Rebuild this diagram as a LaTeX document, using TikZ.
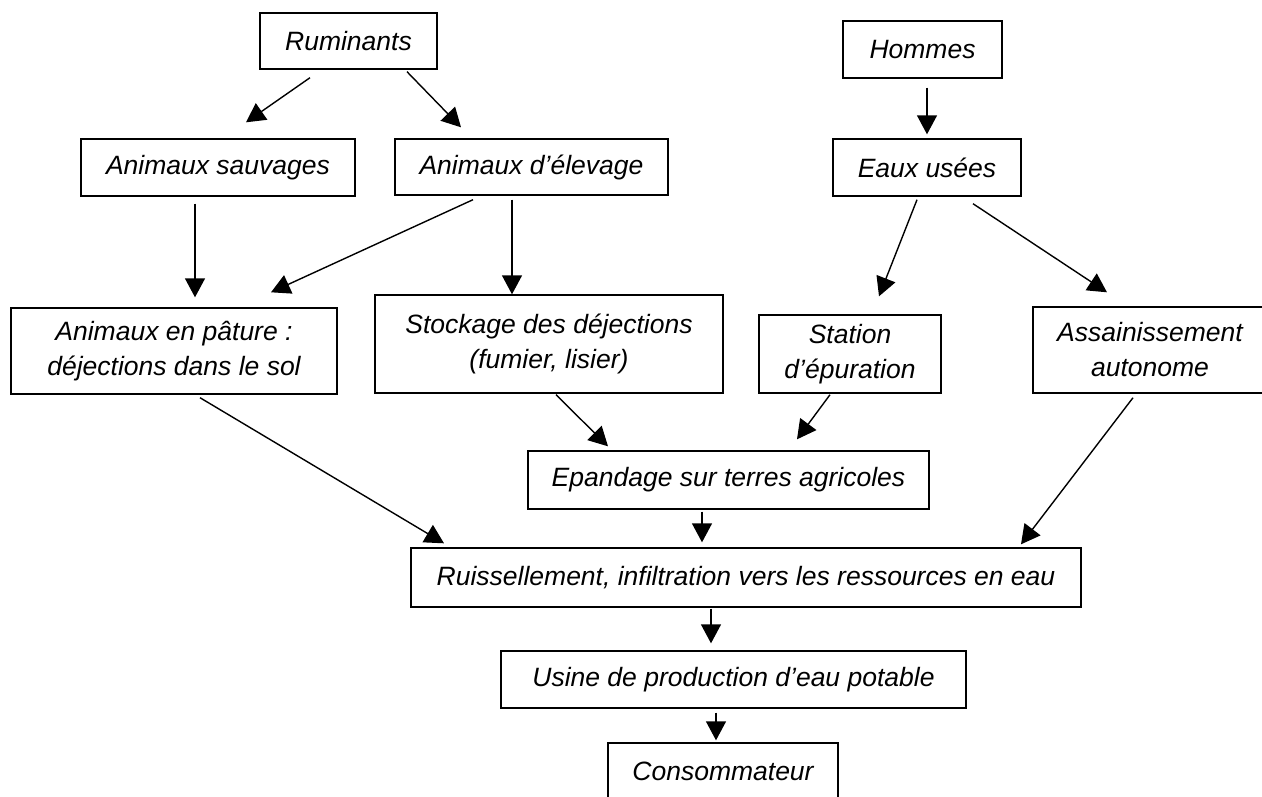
\documentclass[tikz,border=0pt]{standalone}
\usepackage{fontspec}
\setmainfont{Liberation Sans}
\usetikzlibrary{arrows.meta,calc}
\tikzset{
  box/.style={draw, line width=1.4pt, inner sep=0pt, align=center,
    font=\fontsize{26.5}{35}\selectfont\itshape},
  arr/.style={line width=1.4pt, -{Triangle[length=19pt,width=20pt]}}
}
\begin{document}
\begin{tikzpicture}[x=1pt,y=-1pt]
\useasboundingbox (0,0) rectangle (1262,796);
\node[box, minimum width=177pt, minimum height=56pt] (rum) at (348.5,41) {Ruminants};
\node[box, minimum width=159pt, minimum height=57pt] (hom) at (922.5,49.5) {Hommes};
\node[box, minimum width=274pt, minimum height=57pt] (sauv) at (218,167.5) {Animaux sauvages};
\node[box, minimum width=273pt, minimum height=56pt] (elev) at (531.5,167) {Animaux d’élevage};
\node[box, minimum width=188pt, minimum height=57pt] (eaux) at (927,167.5) {Eaux usées};
\node[box, minimum width=326pt, minimum height=86pt] (pat) at (174,351) {Animaux en pâture :\\déjections dans le sol};
\node[box, minimum width=348pt, minimum height=98pt] (stock) at (549,344) {Stockage des déjections\\(fumier, lisier)};
\node[box, minimum width=182pt, minimum height=78pt] (stat) at (850,354) {Station\\d’épuration};
\node[box, minimum width=234pt, minimum height=86pt] (ass) at (1150,350) {Assainissement\\autonome};
\node[box, minimum width=401pt, minimum height=58pt] (epa) at (728.5,480) {Epandage sur terres agricoles};
\node[box, minimum width=670pt, minimum height=59pt] (rui) at (746,577.5) {Ruissellement, infiltration vers les ressources en eau};
\node[box, minimum width=465pt, minimum height=57pt] (usi) at (733.5,679.5) {Usine de production d’eau potable};
\node[box, minimum width=230pt, minimum height=57pt] (con) at (723,771.5) {Consommateur};

\draw[arr] ($(rum.south)+(-38.5,8)$) -- ($(sauv.north)+(28,-16)$);
\draw[arr] ($(rum.south)+(58.5,2)$) -- ($(elev.north)+(-70.5,-11)$);
\draw[arr] ($(hom.south)+(4.5,9)$) -- ($(eaux.north)+(0,-4)$);
\draw[arr] ($(sauv.south)+(-23,7)$) -- ($(pat.north)+(21,-10)$);
\draw[arr] ($(elev.south)+(-58.5,4)$) -- ($(pat.north)+(97,-15)$);
\draw[arr] ($(elev.south)+(-19.5,4)$) -- ($(stock.north)+(-37,0)$);
\draw[arr] ($(eaux.south)+(-10,3)$) -- ($(stat.north)+(29,-18)$);
\draw[arr] ($(eaux.south)+(46,7)$) -- ($(ass.north)+(-43,-14)$);
\draw[arr] ($(pat.south)+(26,3)$) -- ($(rui.north)+(-302,-4)$);
\draw[arr] ($(stock.south)+(7,1)$) -- ($(epa.north)+(-120.5,-4)$);
\draw[arr] ($(stat.south)+(-20,1)$) -- ($(epa.north)+(68.5,-11)$);
\draw[arr] ($(ass.south)+(-17,4)$) -- ($(rui.north)+(275,-3)$);
\draw[arr] ($(epa.south)+(-26.5,2)$) -- ($(rui.north)+(-44,-5)$);
\draw[arr] ($(rui.south)+(-35,1)$) -- ($(usi.north)+(-22.5,-7)$);
\draw[arr] ($(usi.south)+(-17.5,4)$) -- ($(con.north)+(-7,-2)$);
\end{tikzpicture}
\end{document}
